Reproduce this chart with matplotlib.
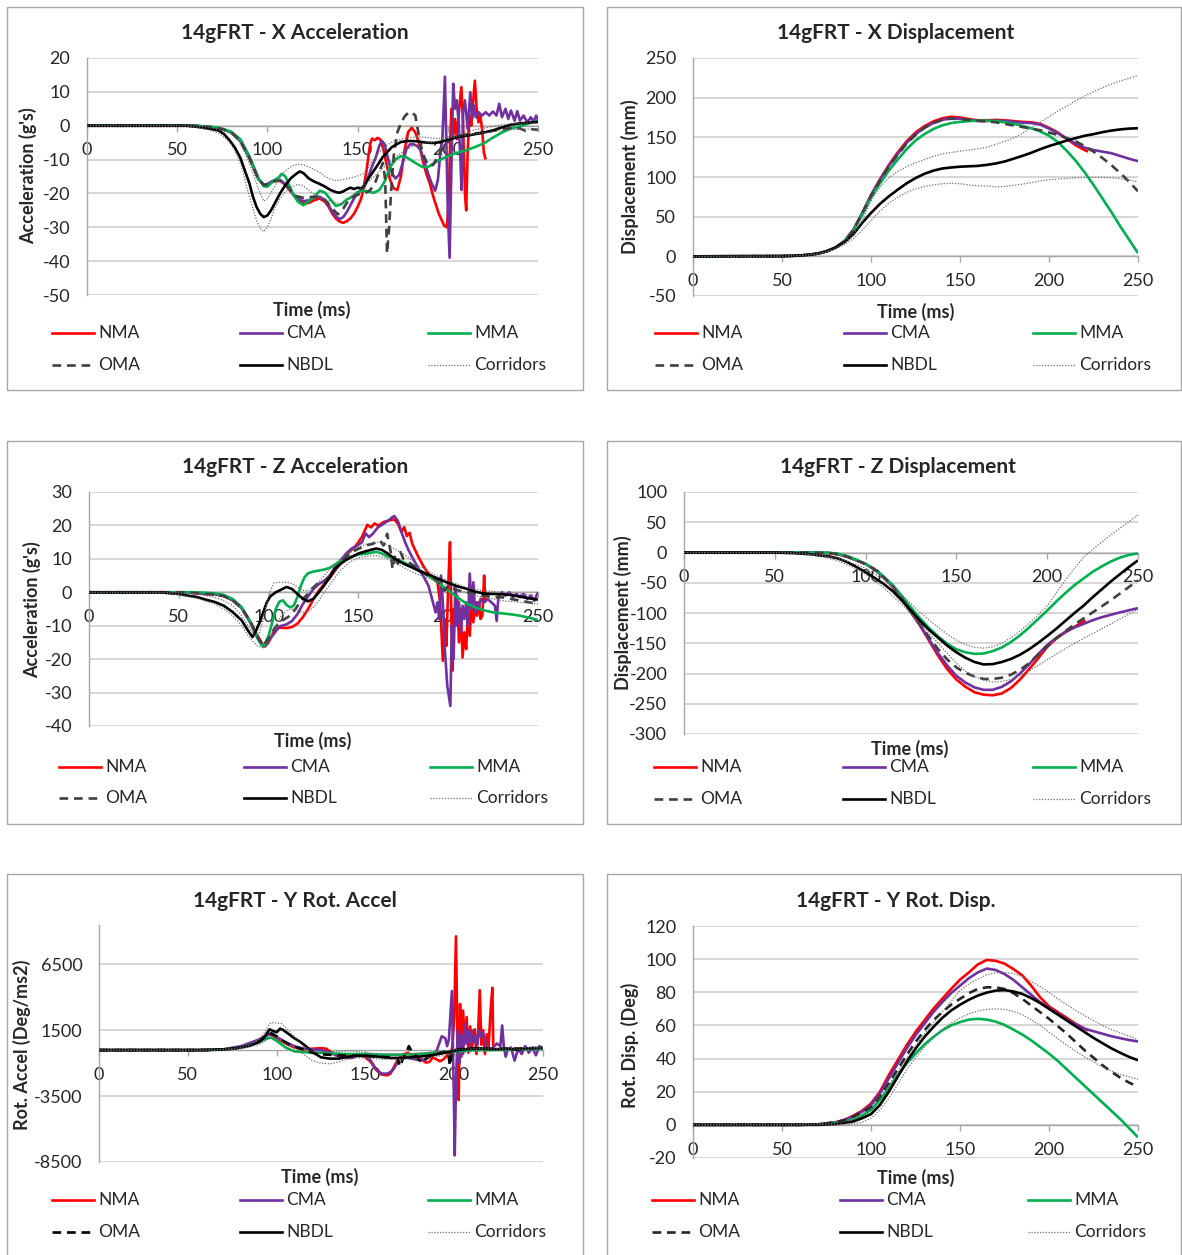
import matplotlib
matplotlib.use("Agg")
import matplotlib.pyplot as plt
from matplotlib.lines import Line2D
from matplotlib.patches import Rectangle

plt.rcParams['font.family'] = ['Lato', 'DejaVu Sans']

W, H = 1182, 1255

TIME_TICKS = [0, 50, 100, 150, 200, 250]
SERIES_NAMES = ["NMA", "CMA", "MMA", "OMA", "NBDL", "Corridors"]

# ---------------- X acceleration (g's) ----------------
XACC_NMA = [(0,0),(60,0),(70,-0.5),(75,-1),(80,-1.9),(85,-4.3),(90,-9.2),(95,-15.6),(98,-17.6),(100,-17.3),(103,-16.5),(107,-16.2),(110,-17.5),(113,-19.5),(116,-21.5),(120,-23),(123,-22.8),(126,-22),(129,-21.5),(132,-22.5),(134,-24),(136,-26),(138,-27.4),(140,-28.3),(142,-28.7),(144,-28.2),(146,-27.4),(148,-26),(150,-24),(152,-21.5),(153.5,-18),(155,-13),(156,-9),(157,-5.3),(158,-3.8),(159.5,-4.3),(161,-3.6),(162.5,-4),(164,-6.3),(166,-11.2),(168,-16),(170,-18.5),(172,-19),(174,-15),(176,-7.3),(178,-1.9),(180,-0.6),(182,-2),(184,-5),(186,-10),(188,-14),(190,-17),(192,-21),(195,-26),(198,-29.5),(199.5,-30),(200.5,-22),(201.3,-5),(202,5),(203,-3),(204,2),(205,-4),(206,3),(207.5,11.4),(208.5,0),(209.5,-20),(210.2,-25),(211,-8),(212,3),(213,0),(214,7),(215,13.3),(216,5),(217,1),(218,3),(219,-1),(220,-8),(221,-10)]
XACC_CMA = [(0,0),(60,0),(70,-0.5),(75,-1),(80,-2),(85,-4.5),(90,-9.5),(95,-15.8),(98,-17.5),(100,-17.2),(103,-16.3),(107,-16),(110,-17.3),(113,-19.3),(116,-21.2),(120,-22.3),(123,-22),(126,-21.2),(129,-21),(132,-22),(134,-23.5),(136,-25.5),(138,-26.8),(140,-27.6),(142,-27),(144,-25.5),(146,-23.5),(148,-21.5),(150,-20),(152,-19),(154,-17.5),(156,-15),(158,-12),(160,-9.5),(162,-6),(163.5,-4.5),(165,-5.5),(167,-10),(169,-14),(171,-15.6),(173,-14.5),(175,-11),(177,-7),(179,-5.5),(181,-5.5),(183,-6),(185,-7.3),(187,-10.5),(189,-14),(191,-17),(193,-19.2),(194.5,-16),(196,-7.3),(197,-4),(198.4,14.5),(199.2,-5),(200,-25),(201,-39),(202,-12),(203,12.4),(204,5),(205,7.5),(206,1),(207,-10),(207.6,-19),(208.5,4),(209.5,7.5),(211,-1),(212.5,9.9),(213.5,2),(214.5,6),(215.5,2.5),(217,4),(219,3),(221,4),(223,3),(225,4.2),(227,3),(228.5,6.5),(230,2.5),(232,5),(233.5,2),(235,4.5),(237,1.5),(238.5,4.3),(240,1.5),(242,3),(244,1),(246,2.5),(247.5,1.2),(249,3),(250,1.6)]
XACC_MMA = [(0,0),(60,0),(70,-0.4),(75,-0.9),(80,-1.8),(85,-4),(90,-9),(95,-15.5),(98,-17.9),(100,-18),(102,-17),(104,-16),(106,-15.4),(108,-14.2),(110,-15),(112,-17.5),(114,-20),(117,-22.5),(120,-23.5),(123,-22.3),(126,-21),(129,-19.2),(132,-19.8),(135,-21.8),(138,-23.7),(141,-23.2),(144,-21.8),(147,-21),(150,-19.7),(153,-19.1),(156,-19.5),(159,-19.8),(162,-19),(165,-16.5),(168,-12.2),(171,-10),(174,-9),(177,-9.3),(180,-10.3),(183,-11.3),(186,-12.2),(189,-12.2),(192,-11.2),(195,-10.2),(200,-9),(205,-8),(210,-7.3),(215,-6.3),(220,-5.2),(225,-3.5),(230,-2),(235,-0.8),(240,-0.2),(245,0.7),(250,1.5)]
XACC_OMA = [(0,0),(60,0),(70,-0.5),(75,-1),(80,-2),(85,-4.5),(90,-9.5),(95,-15.8),(98,-17.5),(100,-17.3),(104,-16.3),(108,-16.3),(112,-18.5),(116,-20.8),(120,-21.3),(125,-21),(130,-21),(133,-22.5),(136,-24.5),(139,-26.2),(142,-24.5),(145,-22),(148,-20.8),(151,-20.2),(154,-20),(157,-19),(160,-16.5),(162,-13.5),(164,-11),(165.3,-16),(166.3,-37.7),(167.5,-30),(168.5,-20),(170,-9),(172,-2),(174,0.7),(176,2.7),(178,3.8),(180,4),(182,3),(184,-3),(186,-8),(188,-10.5),(190,-12),(192,-11.5),(195,-8.5),(200,-4.5),(205,-3.2),(210,-2.6),(215,-2.3),(220,-2),(225,-1.5),(230,-1.1),(235,-0.7),(240,-0.8),(243,-1.5),(246,-1),(250,-1.2)]
XACC_NBDL = [(0,0),(55,0),(62,-0.4),(68,-0.9),(73,-1.4),(76,-2.5),(79,-4.3),(82,-6.5),(85,-9.5),(88,-14),(90,-17),(92,-21),(94,-24),(96,-26),(98,-27),(100,-26.5),(102,-25),(104,-23),(107,-20),(110,-17.5),(113,-15.5),(116,-14.2),(118,-13.5),(120,-14),(123,-15.6),(126,-16.5),(129,-17.2),(132,-18),(135,-19),(138,-19.6),(140,-19.8),(142,-19.4),(144,-18.8),(146,-18.3),(148,-18.7),(150,-18.3),(152,-18.5),(154,-17.6),(156,-15.6),(160,-12.5),(164,-9.2),(169,-6.3),(174,-4.8),(178,-4.5),(183,-4.6),(188,-5),(192,-5.1),(196,-4.8),(200,-4.1),(205,-3.4),(210,-3),(215,-2.5),(220,-2),(225,-1.4),(230,-0.5),(235,0.3),(240,0.7),(245,0.9),(250,1.1)]
XACC_COR_HI = [(0,0),(60,0),(65,-0.3),(70,-0.8),(75,-1.4),(80,-2.5),(84,-4.5),(88,-8.5),(91,-12.5),(94,-17),(96,-20),(98,-22.3),(100,-21.5),(102,-19.8),(105,-17),(108,-14.5),(111,-12.8),(114,-11.8),(117,-11.4),(120,-11.6),(123,-12.2),(126,-13),(129,-13.8),(132,-15),(135,-15.8),(138,-16.2),(141,-16),(144,-15.7),(147,-15.3),(150,-14.8),(153,-14.2),(155,-13.3),(157,-11.5),(160,-9.2),(163,-7.2),(166,-5.8),(170,-4.6),(175,-3.8),(180,-3.4),(185,-3.3),(190,-3.6),(195,-3.8),(200,-3.2),(205,-2.5),(210,-1.8),(215,-1.2),(220,-0.7),(225,-0.2),(230,0.3),(235,0.6),(240,0.8),(250,0.8)]
XACC_COR_LO = [(0,0),(55,0),(60,-0.4),(65,-0.9),(70,-1.6),(74,-2.6),(77,-3.8),(80,-5.5),(83,-8.5),(86,-12.5),(89,-19),(92,-24.5),(94,-28),(96,-30.3),(98,-31.3),(100,-30),(102,-27.5),(104,-24.5),(107,-21.5),(110,-19.5),(114,-18),(117,-17.3),(120,-17.8),(124,-19.5),(128,-21),(132,-21.8),(136,-22.5),(140,-23),(143,-22.5),(146,-21),(150,-19.3),(155,-17),(160,-14.6),(165,-12),(170,-9.7),(175,-7.7),(180,-6.2),(185,-5.3),(190,-5),(195,-4.5),(200,-3.8),(210,-2.8),(220,-2),(230,-1.4),(240,-1),(250,-1)]

# ---------------- X displacement (mm) ----------------
XDISP_NMA = [(0,0),(50,0.3),(60,1),(65,2),(70,3.5),(75,6.5),(80,11),(85,19),(90,33),(95,54),(100,77),(105,97),(110,115),(115,131),(120,145),(125,156),(130,164),(135,170),(140,174),(145,176),(150,175),(155,173),(160,171.5),(165,171.5),(170,172),(175,171.5),(180,170.5),(185,169.5),(190,169),(195,167),(200,162),(205,156),(210,148),(215,140),(220,134),(222,132)]
XDISP_CMA = [(0,0),(50,0.3),(60,1),(65,2),(70,3.5),(75,6.5),(80,11),(85,19),(90,33),(95,54),(100,77),(105,96),(110,114),(115,129),(120,143),(125,154),(130,162),(135,168),(140,172),(145,174),(150,173.5),(155,172),(160,170.5),(165,170.5),(170,171),(175,170.5),(180,169.5),(185,168.5),(190,168),(195,166),(200,161),(205,155),(210,148.5),(215,142),(220,137),(225,134),(230,132),(235,130),(240,126.5),(245,123),(250,120)]
XDISP_MMA = [(0,0),(50,0.3),(60,1),(65,2),(70,3.5),(75,6.5),(80,11),(85,19),(90,32),(95,52),(100,74),(105,92),(110,108),(115,122),(120,135),(125,146),(130,154),(135,160.5),(140,165),(145,168),(150,169.5),(155,170.5),(160,171),(165,171),(170,170.5),(175,169),(180,167),(185,164.5),(190,161.5),(195,157.5),(200,152),(205,144),(210,133),(215,120.5),(220,106),(225,90),(230,73),(235,56),(240,38),(245,21),(250,4)]
XDISP_OMA = [(0,0),(50,0.3),(60,1),(65,2),(70,3.5),(75,6.5),(80,11),(85,19),(90,33),(95,54),(100,76),(105,95),(110,113),(115,128),(120,142),(125,153),(130,162),(135,168),(140,172),(145,173.5),(150,173),(155,172),(160,171),(165,170),(170,169),(175,167),(180,165),(185,163),(190,161),(195,159),(200,156),(205,153),(210,149),(215,145),(220,139),(225,132),(230,124),(235,115),(240,105),(245,94),(250,82)]
XDISP_NBDL = [(0,0),(50,0.3),(55,0.5),(60,1),(65,2),(70,3.3),(75,6),(80,11),(85,17.5),(90,27.6),(95,42),(100,54.7),(105,66),(110,75.6),(115,84),(120,92),(125,98.6),(130,104),(135,108),(140,110.7),(145,112),(150,113),(155,113.5),(160,114),(165,115.3),(170,117),(175,119.5),(180,123),(185,126.6),(190,130.5),(195,135),(200,139),(205,142.4),(210,146),(215,149),(220,152),(225,154),(230,156.5),(235,158.5),(240,160),(245,161),(250,161.5)]
XDISP_COR_HI = [(0,0),(50,0.3),(60,1),(70,3.3),(75,6),(80,10),(85,16.5),(90,27),(95,45),(100,70),(105,87),(110,99),(115,107),(120,113),(125,118),(130,122),(135,126),(140,129),(145,131),(150,132.5),(155,134),(160,135.5),(165,137.5),(170,141),(175,145),(180,149),(185,155),(190,162),(195,169),(200,176),(205,183),(210,189.5),(215,196),(220,202),(225,207.5),(230,212.5),(235,217),(240,221),(245,224.5),(250,228)]
XDISP_COR_LO = [(0,0),(50,0.3),(60,0.8),(70,3),(75,5.5),(80,9),(85,15),(90,22),(95,33),(100,45),(105,57),(110,67),(115,74.5),(120,80.5),(125,85),(130,88),(135,90),(140,91.5),(145,92),(150,91.5),(155,90),(160,89),(165,88.5),(170,87.5),(175,88),(180,89.5),(185,91),(190,93),(195,95),(200,96.5),(205,97.5),(210,98),(215,99),(220,99.5),(225,99.5),(230,99.5),(235,99),(240,98),(245,96),(250,94)]

# ---------------- Z acceleration (g's) ----------------
ZACC_NMA = [(0,0),(55,0),(60,-0.3),(65,-0.5),(70,-0.6),(75,-1.1),(80,-2.4),(85,-4.6),(90,-8.9),(93,-12.2),(96,-15),(98,-16.2),(100,-15),(103,-11.6),(106,-10.6),(110,-10.7),(113,-10.4),(116,-9.4),(119,-7.5),(122,-5),(125,-2),(128,0.5),(131,2.5),(134,4.2),(137,6.5),(140,8.6),(143,11),(146,12.6),(149,14.2),(152,16.6),(155,20.2),(157,19.4),(159,20.6),(161,19.9),(164,21),(167,21.5),(170,21.8),(172,20.5),(174,18),(175.5,19.5),(177,16.8),(178.5,17.8),(180,14.5),(183,11),(186,8),(189,5.5),(192,4),(194,3),(195.5,-3),(197,-20.5),(198,-8),(199,-16),(200,2),(201,15),(201.7,-5),(202.3,-23.5),(203,-5),(204,-10),(205,-1),(206,-15),(207,-5),(208,-19.5),(209,-12),(210,-17),(211,-6),(212,-13),(213,-3),(214,-9),(215,-4),(216,-7),(217,-3),(218,-8),(219,-7),(220,5),(220.7,-3)]
ZACC_CMA = [(0,0),(55,0),(60,-0.3),(65,-0.5),(70,-0.6),(75,-1.1),(80,-2.4),(85,-4.8),(90,-9.3),(93,-12.8),(96,-15.6),(98,-16),(100,-14.5),(103,-12.4),(106,-10.2),(110,-9.6),(113,-8.6),(116,-6.6),(119,-3.6),(122,-1.2),(125,1),(128,2.5),(131,3.4),(134,5),(137,7.5),(140,9.5),(143,11.5),(146,13),(149,13.8),(152,15),(154,17.6),(156,16.5),(158,17.5),(161,19.5),(164,20.5),(167,21.6),(169,22.5),(170,22.8),(172,21.3),(174,18),(176,15),(178,12.5),(180,10.5),(183,7.5),(186,5),(189,2),(191,-2),(193,-6),(194,-3),(195,-8),(196,5),(197,-3),(198,-16),(199.5,-28),(201.2,-34),(202,-10),(203,-20),(204,2),(205,-10),(206,-3),(207,-12),(208,-4),(209,-8),(210,-3),(211,-10),(212,5.6),(213,-5),(214,3),(215,-6),(216,-3),(217,-5),(218,-2),(220,-3),(222,-2),(224,-3),(226,-4),(227,-8.6),(228,-1),(230,0),(232,-1),(234,0),(236,-1.5),(238,-0.5),(240,-1.5),(242,-0.5),(244,-2),(246,-1),(248,-2.5),(250,0)]
ZACC_MMA = [(0,0),(60,0),(70,-0.3),(75,-0.8),(80,-2),(85,-4.5),(90,-9),(94,-14),(97,-16.4),(100,-13),(102,-9),(104,-5),(106,-2.8),(108,-2.4),(110,-3.8),(112,-4.5),(114,-4),(116,-1.5),(118,2),(120,4.5),(122,5.7),(125,6.2),(128,6.5),(131,6.8),(134,7.3),(137,8.3),(140,9.3),(145,10.5),(150,11.3),(155,11.6),(160,12.1),(163,11.6),(166,10.8),(170,10),(175,9),(180,7.6),(185,6.1),(190,4.6),(195,2.6),(200,0.6),(205,-1.5),(210,-3.3),(215,-4.5),(220,-5.4),(225,-6),(230,-6.3),(235,-6.6),(240,-7),(245,-7.6),(250,-8.3)]
ZACC_OMA = [(0,0),(55,0),(60,-0.3),(65,-0.5),(70,-0.6),(75,-1.1),(80,-2.4),(85,-4.6),(90,-9),(94,-13.5),(97,-16),(100,-14),(103,-11),(106,-9),(109,-8),(112,-7),(115,-5),(118,-2.5),(121,-1),(124,1),(127,2.5),(130,3),(134,4.5),(138,7.5),(142,10),(146,12),(150,13),(154,14),(158,14.5),(162,15.5),(164,14),(166,17.5),(168,12),(169,7),(170.5,11),(172,8.5),(173.5,12),(175,10),(178,9),(182,7.5),(186,6),(190,4.5),(194,3.5),(196,2),(198,0.5),(200,2),(203,1),(206,0.5),(210,0),(215,-0.5),(220,-1),(225,-1.5),(230,-1.5),(235,-2),(240,-2.5),(245,-3),(250,-3.5)]
ZACC_NBDL = [(0,0),(40,0),(45,-0.3),(50,-0.5),(55,-1),(60,-1.4),(65,-2.2),(70,-2.9),(75,-4),(80,-5.9),(85,-8.4),(88,-11),(91,-13.4),(93,-11.5),(95,-9),(97,-6),(99,-3),(101,-1.2),(104,0),(107,0.8),(110,1.6),(113,1),(116,-0.5),(119,-1.9),(122,-2.7),(125,-1.9),(128,0),(131,2.1),(134,4.5),(137,7.1),(140,8.5),(143,9.6),(146,10.5),(150,11.6),(155,12.4),(160,13.1),(163,12.7),(166,11.7),(170,10.1),(175,8.6),(180,7.4),(185,6.1),(190,5.1),(195,3.9),(200,2.8),(205,1.8),(210,1.1),(215,0.2),(220,-0.4),(225,-0.5),(230,-0.6),(235,-0.8),(240,-1.3),(245,-1.8),(250,-2.2)]
ZACC_COR_HI = [(0,0),(40,0),(50,-0.2),(60,-0.5),(70,-1.5),(75,-2.5),(80,-4),(85,-7),(88,-9.5),(91,-12),(93,-13.3),(95,-12),(97,-8),(99,-3),(101,0.5),(103,2.8),(106,3),(110,3),(113,2.6),(116,1.6),(119,0.6),(122,0.4),(125,1.4),(128,3),(131,5),(135,7.5),(140,10),(145,12),(150,13.5),(155,14.5),(160,15),(165,14.5),(170,13),(175,11.5),(180,9.5),(185,7.5),(190,6),(195,4.5),(200,3.5),(205,2.5),(210,1.5),(220,0.5),(230,0),(240,-0.5),(250,-1)]
ZACC_COR_LO = [(0,0),(40,0),(50,-0.7),(60,-1.8),(70,-3.5),(75,-5),(80,-7),(85,-10),(90,-14),(94,-16.2),(98,-16.5),(101,-14),(104,-10),(107,-7),(110,-5.5),(113,-5),(116,-5.5),(119,-6),(122,-5.8),(125,-4.5),(128,-2.5),(131,0),(135,3),(140,6.5),(145,9),(150,10.3),(155,10.8),(160,11),(165,10.3),(170,9),(175,7.5),(180,6),(185,5),(190,4),(195,3),(200,2),(205,1),(210,0),(215,-1),(220,-1.5),(230,-2.5),(240,-3),(250,-3.5)]

# ---------------- Z displacement (mm) ----------------
ZDISP_NMA = [(0,0),(70,0),(80,-1),(85,-3),(90,-7),(95,-13),(100,-19),(105,-28),(110,-41),(115,-57),(120,-77),(125,-99),(130,-121),(135,-146),(140,-171),(145,-193),(150,-210),(155,-222),(160,-231),(165,-235),(170,-236),(175,-233),(180,-224),(185,-210),(190,-193),(195,-175),(200,-156),(205,-142),(210,-132),(215,-123),(220,-114),(221,-112)]
ZDISP_CMA = [(0,0),(70,0),(80,-1),(85,-3),(90,-7),(95,-13),(100,-19),(105,-28),(110,-41),(115,-56),(120,-76),(125,-98),(130,-120),(135,-144),(140,-167),(145,-187),(150,-204),(155,-215),(160,-223),(165,-227),(170,-227),(175,-222),(180,-213),(185,-200),(190,-185),(195,-168),(200,-153),(205,-141),(210,-131),(215,-124),(220,-118),(225,-112),(230,-107),(235,-103),(240,-99),(245,-95.5),(250,-92)]
ZDISP_MMA = [(0,0),(75,0),(80,-0.5),(85,-2),(90,-6),(95,-12),(100,-19),(105,-28),(110,-40),(115,-54),(120,-72),(125,-91),(130,-109),(135,-125),(140,-139),(145,-151),(150,-160),(155,-165),(160,-167.5),(165,-167),(170,-163),(175,-157),(180,-148),(185,-137),(190,-124),(195,-110),(200,-96),(205,-81),(210,-67),(215,-54),(220,-43),(225,-32),(230,-23),(235,-15),(240,-8.5),(245,-4),(250,-1.5)]
ZDISP_OMA = [(0,0),(70,0),(80,-1),(85,-3),(90,-7),(95,-13),(100,-19),(105,-28),(110,-41),(115,-56),(120,-76),(125,-97),(130,-118),(135,-140),(140,-160),(145,-177),(150,-190),(155,-199),(160,-205),(165,-209),(170,-209),(175,-207),(180,-202),(185,-194),(190,-183),(195,-169),(200,-155),(205,-142),(210,-130),(215,-119),(220,-109),(225,-99),(230,-89),(235,-79),(240,-68),(245,-57),(250,-46)]
ZDISP_NBDL = [(0,0),(50,0),(60,-1),(70,-3),(75,-5),(80,-6.5),(85,-10),(90,-16),(95,-24),(100,-32.6),(105,-42),(110,-52),(115,-64),(120,-79.5),(125,-96),(130,-113),(135,-128),(140,-141),(145,-154),(150,-165),(155,-174),(160,-181),(165,-185),(170,-184.5),(175,-181),(180,-176),(185,-169),(190,-160),(195,-149.5),(200,-138),(205,-126),(210,-113),(215,-100),(220,-88),(225,-74),(230,-61),(235,-48),(240,-36),(245,-24),(250,-13)]
ZDISP_COR_HI = [(0,0),(55,0),(65,-1.5),(75,-4),(85,-10),(95,-20),(100,-26),(110,-45),(120,-70),(130,-99),(140,-124),(145,-135),(150,-145),(155,-152),(160,-157),(165,-158),(170,-156),(175,-150),(180,-141),(185,-130),(190,-117),(195,-103),(200,-88),(205,-67),(210,-46),(215,-26),(220,-8),(225,5),(230,17),(235,29),(240,40),(245,51),(250,62)]
ZDISP_COR_LO = [(0,0),(55,0),(65,-2),(75,-6),(85,-14),(95,-27),(100,-36),(110,-58),(120,-86),(130,-117),(140,-150),(145,-167),(150,-183),(155,-196),(160,-205),(165,-211),(170,-214),(175,-213),(180,-210),(185,-203),(190,-196),(200,-177),(210,-159),(220,-142),(230,-126),(240,-110),(250,-94)]

# ---------------- Y rotational acceleration (deg/ms2) ----------------
RACC_NMA = [(0,0),(55,0),(70,50),(80,250),(85,450),(90,750),(94,1100),(96,1200),(98,1100),(100,900),(105,500),(110,200),(115,60),(120,100),(125,150),(128,100),(130,-100),(133,-380),(136,-480),(140,-450),(145,-300),(150,-550),(153,-900),(156,-1500),(159,-1850),(162,-1920),(164,-1800),(166,-1300),(168,-800),(170,-450),(172,-300),(174,-200),(176,-500),(178,-300),(180,-550),(182,-750),(184,-950),(186,-900),(188,-550),(190,-700),(192,-850),(194,-700),(196,-400),(198,-200),(199,300),(200,2500),(201,8640),(201.7,2000),(202.5,-3800),(203.3,3500),(204,-500),(205,3000),(206,500),(207,2500),(208,-200),(209,1800),(210,200),(211.5,1580),(212.5,-300),(213.5,1500),(214.4,4550),(215.3,400),(216.3,1500),(217.3,-300),(218.3,1200),(219.3,100),(220.5,3000),(221.5,4730),(222,200)]
RACC_CMA = [(0,0),(55,0),(70,50),(80,300),(90,800),(95,1150),(97,1300),(100,1000),(105,600),(110,300),(115,120),(120,60),(125,0),(130,-200),(135,-450),(140,-600),(143,-580),(146,-350),(150,-420),(153,-800),(156,-1450),(159,-1780),(162,-1800),(165,-1600),(167,-1200),(169,-700),(172,-500),(175,-620),(178,-700),(181,-800),(184,-700),(187,-400),(190,-100),(193,1050),(195,900),(196,300),(197,800),(198.7,4480),(199.3,0),(199.8,-3500),(200.3,-8000),(201,-2500),(202,1500),(203,-1000),(204,1200),(205,-300),(206,2000),(207,500),(208,1500),(209,300),(210,1500),(211,600),(212,1100),(213,400),(214,1500),(215,1000),(216,1300),(217,900),(218,300),(220,0),(222,200),(224,500),(226,300),(227,1870),(228,200),(229,-500),(230,0),(232,200),(234,-800),(236,100),(238,-300),(240,300),(242,-200),(244,200),(246,-400),(248,300),(250,100)]
RACC_MMA = [(0,0),(55,0),(70,50),(80,200),(90,600),(95,900),(97,950),(100,700),(105,200),(110,-100),(115,-150),(120,-200),(125,-200),(130,-250),(140,-300),(150,-300),(160,-350),(170,-350),(180,-300),(190,-200),(200,-100),(210,0),(220,0),(230,20),(240,50),(250,100)]
RACC_OMA = [(0,0),(60,0),(70,40),(80,180),(85,350),(90,650),(94,1050),(97,1250),(100,1050),(103,750),(106,500),(110,250),(115,50),(120,-200),(125,-320),(130,-360),(140,-420),(150,-460),(160,-520),(165,-560),(168,-620),(169.5,-1250),(171,-700),(173,-200),(174.5,300),(176,-100),(178,-400),(180,-700),(182,-950),(184,-650),(187,-450),(190,-300),(194,-150),(196.5,-100),(197.6,-1200),(198.6,-150),(200,0),(205,80),(210,120),(220,100),(230,120),(240,130),(250,150)]
RACC_NBDL = [(0,0),(60,0),(70,50),(75,100),(80,200),(85,350),(90,600),(93,950),(96,1580),(98,1450),(100,1350),(102,1630),(104,1500),(107,1200),(110,900),(113,650),(116,350),(119,0),(122,-300),(125,-550),(130,-650),(135,-650),(140,-520),(145,-420),(150,-420),(155,-470),(160,-550),(165,-600),(170,-600),(175,-560),(180,-500),(185,-430),(190,-330),(195,-200),(200,-40),(205,50),(210,100),(215,130),(220,80),(225,60),(230,110),(235,20),(240,110),(245,150),(250,160)]
RACC_COR_HI = [(0,0),(60,0),(70,50),(80,200),(85,400),(90,800),(93,1300),(95,1800),(97,2100),(100,2050),(103,2000),(106,1600),(110,1000),(115,300),(120,-100),(125,-200),(130,-150),(135,-100),(140,-50),(145,-100),(150,-200),(160,-300),(170,-300),(180,-250),(190,-100),(200,0),(210,100),(220,150),(230,150),(240,200),(250,200)]
RACC_COR_LO = [(0,0),(60,0),(70,20),(80,100),(90,400),(95,800),(98,1000),(101,800),(105,500),(110,200),(115,-300),(120,-800),(125,-1000),(130,-1050),(135,-900),(140,-700),(145,-600),(150,-600),(160,-700),(170,-700),(180,-650),(190,-500),(200,-300),(210,-100),(220,0),(230,0),(240,50),(250,100)]

# ---------------- Y rotational displacement (deg) ----------------
RDISP_NMA = [(0,0),(60,0),(70,0.3),(80,1.5),(85,3),(90,5.5),(95,8.5),(100,12.9),(105,20),(110,30),(115,39),(120,48),(125,56),(130,63),(135,70),(140,76),(145,82),(150,87.6),(155,92),(160,96.8),(165,99.5),(170,99),(175,97.3),(180,94),(185,90.2),(190,84),(195,77),(200,71.5),(205,68),(210,64.5),(215,61),(220,58),(222,57)]
RDISP_CMA = [(0,0),(60,0),(70,0.3),(80,1.5),(85,2.8),(90,5),(95,8),(100,12),(105,19),(110,28),(115,37),(120,46),(125,54),(130,61),(135,68),(140,74),(145,79.5),(150,84),(155,88.5),(160,92),(165,94.3),(170,93.5),(175,91),(180,87.5),(185,83),(190,78.5),(195,74),(200,70.5),(205,67),(210,63.5),(215,60.5),(220,58),(225,56.5),(230,55),(235,53.5),(240,52.3),(245,51.2),(250,50.3)]
RDISP_MMA = [(0,0),(60,0),(70,0.3),(80,1.3),(85,2),(90,3.2),(95,5.5),(100,9),(105,15),(110,22),(115,30),(120,37),(125,43),(130,48.5),(135,53),(140,57),(145,60),(150,62),(155,63.5),(160,64),(165,63.5),(170,62.3),(175,60.3),(180,57.5),(185,54.5),(190,51),(195,47),(200,43),(205,38.5),(210,33.5),(215,28.5),(220,23.5),(225,18.5),(230,13.5),(235,8.5),(240,3.5),(245,-2),(250,-7.5)]
RDISP_OMA = [(0,0),(60,0),(70,0.3),(80,1.5),(85,2.8),(90,5),(95,7.5),(100,10.5),(105,17),(110,25),(115,33.5),(120,42),(125,50),(130,57),(135,63),(140,68),(145,72.5),(150,76),(155,79.5),(160,82),(165,83),(170,83),(175,82),(180,79.5),(185,76),(190,72),(195,68),(200,64),(205,59.5),(210,55),(215,50),(220,45),(225,40.5),(230,36),(235,32),(240,28.5),(245,25.5),(250,23)]
RDISP_NBDL = [(0,0),(70,0),(80,0.5),(90,2),(95,4),(100,6.5),(105,12),(110,20),(115,29),(120,38),(125,46),(130,53),(135,59),(140,64.5),(145,69),(150,72.5),(155,75.5),(160,78),(165,79.8),(170,81),(175,81.3),(180,80.5),(185,79),(190,76.5),(195,73.5),(200,70),(205,66.5),(210,63),(215,59.5),(220,56),(225,52.5),(230,49.3),(235,46.2),(240,43.5),(245,41),(250,39)]
RDISP_COR_HI = [(0,0),(60,0),(80,1),(90,3),(100,10),(110,24),(120,40),(130,55),(140,68),(150,81),(155,85),(160,88),(165,90.5),(170,91.8),(175,92),(180,91.3),(185,89.5),(190,86.5),(195,83.5),(200,80),(205,76),(210,72.5),(215,69),(220,66),(225,63),(230,60),(235,57.5),(240,55.5),(245,53.5),(250,51.5)]
RDISP_COR_LO = [(0,0),(70,0),(90,0.5),(95,1.5),(100,4),(105,9),(110,16),(115,24.5),(120,33),(125,40.5),(130,47),(135,52.5),(140,57.5),(145,61.5),(150,64.5),(155,67),(160,68.7),(165,69.7),(170,70),(175,69.7),(180,68.5),(185,66.5),(190,63.5),(195,60),(200,56),(205,52),(210,48),(215,44.5),(220,41),(225,38),(230,35),(235,32.5),(240,30.5),(245,29),(250,27.5)]

# ---------------- styling ----------------
RED, PURPLE, GREEN = "#ff0000", "#7030a0", "#00b050"
GRID = "#d0d0d0"
AXIS = "#a6a6a6"
BORDER = "#a6a6a6"
TEXT = "#262626"
LW = 1.9
DASH = (3.3, 2.2)
DOT = (0, (1.0, 1.3))
COR_COLOR = "#6e6e6e"
COR_LW = 0.9
FS_TICK = 13
FS_TITLE = 15
FS_AXLAB = 13
FS_LEG = 12.5

fig = plt.figure(figsize=(W / 100, H / 100), dpi=100)


def fx(x):
    return x / W


def fy(y):
    return 1 - y / H


def unzip(pairs):
    return [p[0] for p in pairs], [p[1] for p in pairs]


def styles(oma_color):
    return [
        dict(color=RED, lw=LW, ls="-"),
        dict(color=PURPLE, lw=LW, ls="-"),
        dict(color=GREEN, lw=LW, ls="-"),
        dict(color=oma_color, lw=LW, ls=(0, DASH)),
        dict(color="black", lw=LW, ls="-"),
        dict(color=COR_COLOR, lw=COR_LW, ls=DOT),
    ]


def panel(box, area, ylim, yticks, title, ylabel, curves, corridors,
          title_xy, ylabel_xy, xlabel_xy, leg_x, leg_y, oma_color):
    x0, y0, x1, y1 = box
    fig.add_artist(Rectangle((fx(x0), fy(y1)), (x1 - x0) / W, (y1 - y0) / H,
                             transform=fig.transFigure, fill=False,
                             ec=BORDER, lw=1.0))
    l, t, r, b = area
    ax = fig.add_axes([fx(l), fy(b), (r - l) / W, (b - t) / H])
    ax.set_xlim(0, 250)
    ax.set_ylim(*ylim)
    ax.set_xticks(TIME_TICKS)
    ax.set_yticks(yticks)
    ax.set_yticklabels([str(v) for v in yticks])
    for s in ("top", "right"):
        ax.spines[s].set_visible(False)
    ax.spines["left"].set_color(AXIS)
    ax.spines["left"].set_linewidth(1.0)
    ax.spines["bottom"].set_position(("data", 0))
    ax.spines["bottom"].set_color(AXIS)
    ax.spines["bottom"].set_linewidth(1.0)
    ax.set_axisbelow(True)
    ax.yaxis.grid(True, color=GRID, lw=1.2)
    ax.tick_params(axis="y", length=0, pad=12, labelsize=FS_TICK, labelcolor=TEXT)
    ax.tick_params(axis="x", length=4, width=1, color=AXIS, pad=8,
                   labelsize=FS_TICK, labelcolor=TEXT)
    st = styles(oma_color)
    for pairs, s in zip(curves, st[:5]):
        tt, vv = unzip(pairs)
        ax.plot(tt, vv, zorder=3, solid_capstyle="butt", **s)
    for pairs in corridors:
        tt, vv = unzip(pairs)
        ax.plot(tt, vv, zorder=3, **st[5])

    fig.text(fx(title_xy[0]), fy(title_xy[1]), title, ha="center", va="center",
             fontsize=FS_TITLE, fontweight="bold", color=TEXT)
    fig.text(fx(ylabel_xy[0]), fy(ylabel_xy[1]), ylabel, ha="center", va="center",
             rotation=90, fontsize=FS_AXLAB, fontweight="bold", color=TEXT)
    fig.text(fx(xlabel_xy[0]), fy(xlabel_xy[1]), "Time (ms)", ha="center", va="center",
             fontsize=FS_AXLAB, fontweight="bold", color=TEXT)

    # legend: two rows of three entries
    for i, name in enumerate(SERIES_NAMES):
        row, col = divmod(i, 3)
        lx = leg_x[col]
        ly = leg_y[row]
        s = st[i]
        fig.add_artist(Line2D([fx(lx), fx(lx + 42)], [fy(ly), fy(ly)],
                              transform=fig.transFigure, color=s["color"],
                              lw=s["lw"], ls=s["ls"]))
        fig.text(fx(lx + 46), fy(ly), name, ha="left", va="center",
                 fontsize=FS_LEG, color=TEXT)
    return ax


panel(box=(7, 7, 583, 390), area=(87, 58, 538, 295), ylim=(-50, 20),
      yticks=list(range(-50, 21, 10)), title="14gFRT - X Acceleration",
      ylabel="Acceleration (g's)",
      curves=[XACC_NMA, XACC_CMA, XACC_MMA, XACC_OMA, XACC_NBDL],
      corridors=[XACC_COR_HI, XACC_COR_LO],
      title_xy=(295, 33), ylabel_xy=(28, 176), xlabel_xy=(312, 310),
      leg_x=(52, 240, 428), leg_y=(333, 365), oma_color="#404040")

panel(box=(607, 7, 1180.5, 390), area=(693, 58, 1138, 296), ylim=(-50, 250),
      yticks=list(range(-50, 251, 50)), title="14gFRT - X Displacement",
      ylabel="Displacement (mm)",
      curves=[XDISP_NMA, XDISP_CMA, XDISP_MMA, XDISP_OMA, XDISP_NBDL],
      corridors=[XDISP_COR_HI, XDISP_COR_LO],
      title_xy=(896, 33), ylabel_xy=(630, 177), xlabel_xy=(916, 312),
      leg_x=(655, 844, 1033), leg_y=(333, 365), oma_color="#404040")

panel(box=(7, 441, 583, 824), area=(89, 492, 538, 726), ylim=(-40, 30),
      yticks=list(range(-40, 31, 10)), title="14gFRT - Z Acceleration",
      ylabel="Acceleration (g's)",
      curves=[ZACC_NMA, ZACC_CMA, ZACC_MMA, ZACC_OMA, ZACC_NBDL],
      corridors=[ZACC_COR_HI, ZACC_COR_LO],
      title_xy=(295, 467), ylabel_xy=(32, 610), xlabel_xy=(313, 741),
      leg_x=(59, 244, 430), leg_y=(767, 798), oma_color="#404040")

panel(box=(607, 441, 1180.5, 824), area=(684, 492, 1138, 734), ylim=(-300, 100),
      yticks=list(range(-300, 101, 50)), title="14gFRT - Z Displacement",
      ylabel="Displacement (mm)",
      curves=[ZDISP_NMA, ZDISP_CMA, ZDISP_MMA, ZDISP_OMA, ZDISP_NBDL],
      corridors=[ZDISP_COR_HI, ZDISP_COR_LO],
      title_xy=(898, 467), ylabel_xy=(623, 613), xlabel_xy=(910, 749),
      leg_x=(654, 843, 1033), leg_y=(767, 799), oma_color="#404040")

panel(box=(7, 874, 583, 1262), area=(99, 925, 543, 1162), ylim=(-8500, 9500),
      yticks=[-8500, -3500, 1500, 6500], title="14gFRT - Y Rot. Accel",
      ylabel="Rot. Accel (Deg/ms2)",
      curves=[RACC_NMA, RACC_CMA, RACC_MMA, RACC_OMA, RACC_NBDL],
      corridors=[RACC_COR_HI, RACC_COR_LO],
      title_xy=(295, 901), ylabel_xy=(22, 1045), xlabel_xy=(320, 1177),
      leg_x=(52, 240, 428), leg_y=(1200, 1232), oma_color="black")

panel(box=(607, 874, 1180.5, 1262), area=(693, 926, 1138, 1158), ylim=(-20, 120),
      yticks=list(range(-20, 121, 20)), title="14gFRT - Y Rot. Disp.",
      ylabel="Rot. Disp. (Deg)",
      curves=[RDISP_NMA, RDISP_CMA, RDISP_MMA, RDISP_OMA, RDISP_NBDL],
      corridors=[RDISP_COR_HI, RDISP_COR_LO],
      title_xy=(896, 901), ylabel_xy=(630, 1045), xlabel_xy=(916, 1178),
      leg_x=(652, 840, 1028), leg_y=(1200, 1232), oma_color="#262626")

fig.savefig("out.png", dpi=100, facecolor="white")
